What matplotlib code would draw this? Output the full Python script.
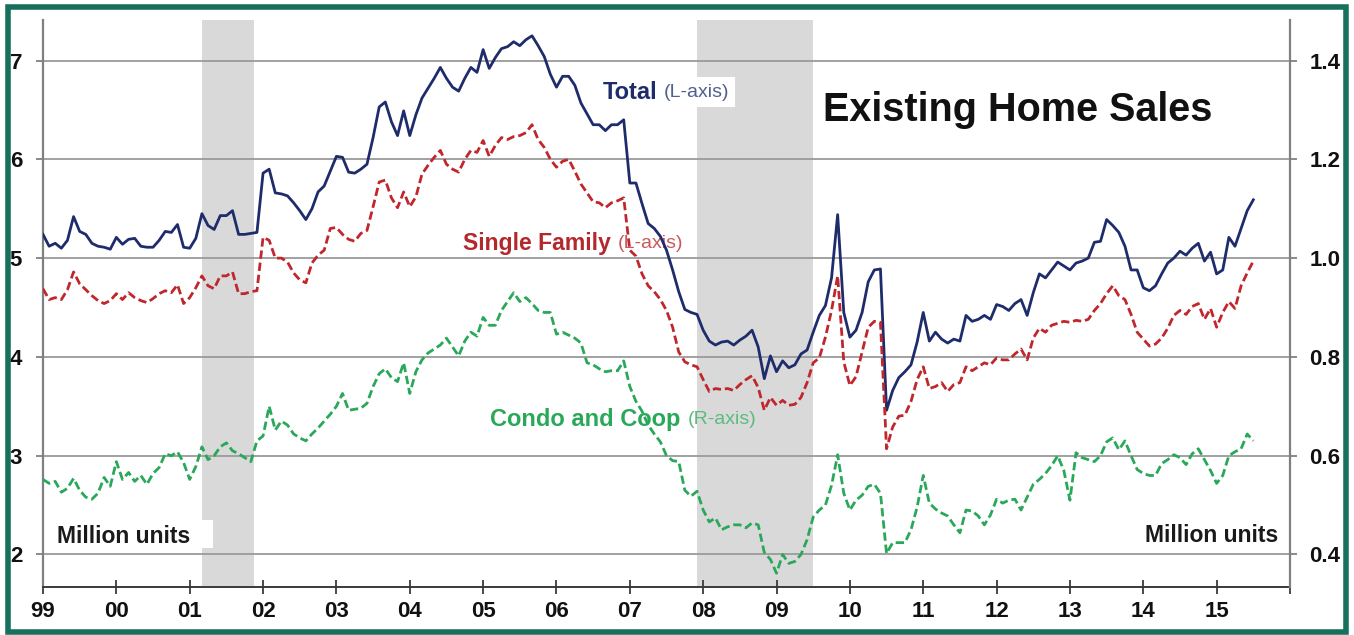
"""
Existing Home Sales: total and single family (left axis), condo and coop
(right axis), monthly SAAR, million units, 1999 - mid 2015.
"""

import matplotlib
matplotlib.use('Agg')

import numpy as np
import matplotlib.pyplot as plt
from matplotlib.patches import Rectangle

plt.rcParams['font.family'] = ['Liberation Sans', 'DejaVu Sans']

# Monthly values, Jan 1999 .. Jul 2015 (million units)
total_sales = [
    5.24, 5.12, 5.15, 5.10, 5.18, 5.42, 5.27, 5.24, 5.15, 5.12, 5.11, 5.09,
    5.21, 5.14, 5.19, 5.20, 5.12, 5.11, 5.11, 5.18, 5.27, 5.26, 5.34, 5.11,
    5.10, 5.20, 5.45, 5.33, 5.29, 5.43, 5.43, 5.48, 5.24, 5.24, 5.25, 5.26,
    5.86, 5.90, 5.66, 5.65, 5.63, 5.56, 5.48, 5.39, 5.50, 5.67, 5.73, 5.88,
    6.03, 6.02, 5.87, 5.86, 5.90, 5.95, 6.22, 6.53, 6.58, 6.38, 6.24, 6.49,
    6.24, 6.45, 6.62, 6.72, 6.82, 6.93, 6.82, 6.73, 6.69, 6.82, 6.93, 6.88,
    7.11, 6.92, 7.03, 7.12, 7.14, 7.19, 7.15, 7.21, 7.25, 7.15, 7.04, 6.86,
    6.73, 6.84, 6.84, 6.75, 6.57, 6.46, 6.35, 6.35, 6.29, 6.35, 6.35, 6.40,
    5.76, 5.76, 5.55, 5.35, 5.30, 5.22, 5.08, 4.88, 4.66, 4.48, 4.45, 4.43,
    4.27, 4.16, 4.12, 4.15, 4.16, 4.12, 4.17, 4.21, 4.27, 4.10, 3.78, 4.01,
    3.85, 3.96, 3.89, 3.92, 4.03, 4.07, 4.25, 4.42, 4.52, 4.80, 5.44, 4.45,
    4.20, 4.27, 4.45, 4.76, 4.88, 4.89, 3.46, 3.66, 3.79, 3.85, 3.92, 4.15,
    4.45, 4.16, 4.25, 4.18, 4.14, 4.18, 4.16, 4.42, 4.36, 4.38, 4.42, 4.38,
    4.53, 4.51, 4.47, 4.54, 4.58, 4.42, 4.65, 4.84, 4.80, 4.88, 4.96, 4.92,
    4.88, 4.95, 4.97, 5.00, 5.16, 5.17, 5.39, 5.33, 5.26, 5.12, 4.88, 4.88,
    4.70, 4.67, 4.72, 4.84, 4.95, 5.00, 5.07, 5.03, 5.10, 5.15, 4.97, 5.06,
    4.84, 4.88, 5.21, 5.12, 5.30, 5.48, 5.59,
]

single_family = [
    4.69, 4.58, 4.60, 4.58, 4.68, 4.86, 4.74, 4.68, 4.62, 4.57, 4.54, 4.57,
    4.64, 4.58, 4.65, 4.60, 4.57, 4.55, 4.59, 4.64, 4.67, 4.65, 4.73, 4.54,
    4.60, 4.70, 4.82, 4.72, 4.69, 4.82, 4.82, 4.86, 4.64, 4.64, 4.66, 4.67,
    5.21, 5.18, 5.00, 5.00, 4.96, 4.85, 4.78, 4.75, 4.95, 5.03, 5.08, 5.30,
    5.31, 5.24, 5.19, 5.17, 5.25, 5.28, 5.52, 5.77, 5.79, 5.61, 5.51, 5.67,
    5.52, 5.62, 5.85, 5.94, 6.02, 6.09, 5.95, 5.90, 5.87, 6.00, 6.09, 6.07,
    6.19, 6.03, 6.14, 6.22, 6.20, 6.23, 6.24, 6.27, 6.35, 6.20, 6.12, 6.00,
    5.92, 5.98, 6.00, 5.88, 5.75, 5.66, 5.57, 5.56, 5.51, 5.56, 5.58, 5.61,
    5.08, 5.02, 4.84, 4.72, 4.66, 4.58, 4.47, 4.30, 4.05, 3.95, 3.92, 3.90,
    3.77, 3.65, 3.68, 3.67, 3.68, 3.66, 3.72, 3.77, 3.81, 3.69, 3.46, 3.59,
    3.51, 3.56, 3.51, 3.52, 3.59, 3.74, 3.94, 3.99, 4.20, 4.47, 4.82, 3.95,
    3.71, 3.80, 4.05, 4.30, 4.36, 4.35, 3.07, 3.29, 3.40, 3.41, 3.55, 3.77,
    3.90, 3.68, 3.70, 3.74, 3.65, 3.72, 3.74, 3.90, 3.86, 3.90, 3.94, 3.92,
    3.99, 3.97, 3.97, 4.03, 4.08, 3.97, 4.19, 4.29, 4.25, 4.32, 4.34, 4.36,
    4.35, 4.37, 4.36, 4.38, 4.47, 4.54, 4.64, 4.72, 4.62, 4.58, 4.43, 4.25,
    4.18, 4.11, 4.13, 4.19, 4.29, 4.42, 4.47, 4.43, 4.51, 4.54, 4.38, 4.49,
    4.30, 4.45, 4.56, 4.49, 4.72, 4.85, 4.97,
]

condo_coop = [
    0.552, 0.544, 0.548, 0.526, 0.534, 0.554, 0.530, 0.516, 0.512, 0.524, 0.556, 0.538,
    0.588, 0.552, 0.566, 0.548, 0.560, 0.542, 0.564, 0.576, 0.604, 0.600, 0.608, 0.586,
    0.552, 0.578, 0.618, 0.592, 0.600, 0.618, 0.626, 0.610, 0.604, 0.596, 0.588, 0.630,
    0.640, 0.700, 0.652, 0.670, 0.662, 0.644, 0.636, 0.630, 0.644, 0.656, 0.670, 0.684,
    0.700, 0.726, 0.692, 0.694, 0.696, 0.706, 0.740, 0.766, 0.776, 0.758, 0.750, 0.788,
    0.726, 0.770, 0.794, 0.808, 0.816, 0.824, 0.838, 0.820, 0.802, 0.832, 0.850, 0.842,
    0.880, 0.864, 0.864, 0.894, 0.912, 0.930, 0.912, 0.920, 0.908, 0.894, 0.890, 0.890,
    0.846, 0.850, 0.844, 0.838, 0.828, 0.788, 0.784, 0.776, 0.770, 0.772, 0.772, 0.792,
    0.740, 0.710, 0.690, 0.662, 0.644, 0.628, 0.600, 0.590, 0.588, 0.530, 0.518, 0.528,
    0.490, 0.466, 0.474, 0.450, 0.456, 0.460, 0.460, 0.454, 0.464, 0.460, 0.404, 0.390,
    0.362, 0.400, 0.382, 0.386, 0.400, 0.430, 0.476, 0.490, 0.500, 0.540, 0.602, 0.524,
    0.490, 0.510, 0.520, 0.538, 0.542, 0.524, 0.402, 0.424, 0.424, 0.424, 0.450, 0.496,
    0.560, 0.504, 0.492, 0.484, 0.478, 0.460, 0.444, 0.490, 0.488, 0.478, 0.460, 0.480,
    0.512, 0.504, 0.510, 0.512, 0.490, 0.516, 0.542, 0.552, 0.564, 0.580, 0.600, 0.570,
    0.510, 0.606, 0.596, 0.592, 0.588, 0.600, 0.628, 0.636, 0.612, 0.630, 0.600, 0.572,
    0.564, 0.560, 0.560, 0.584, 0.592, 0.602, 0.596, 0.582, 0.604, 0.614, 0.592, 0.570,
    0.544, 0.560, 0.600, 0.608, 0.614, 0.644, 0.630,
]

years = list(range(1999, 2017))
year_labels = ['99', '00', '01', '02', '03', '04', '05', '06', '07', '08',
               '09', '10', '11', '12', '13', '14', '15', '']
left_ticks = [2, 3, 4, 5, 6, 7]
right_ticks = [0.4, 0.6, 0.8, 1.0, 1.2, 1.4]
recessions = [(2001.17, 2001.88), (2007.92, 2009.50)]

# Colors
navy = '#1f2c6b'
red = '#c0272d'
green = '#2aa85a'

dates = 1999 + np.arange(len(total_sales)) / 12.0

fig = plt.figure(figsize=(13.54, 6.35), dpi=100)
ax = fig.add_axes([43 / 1354, 48 / 635, 1247 / 1354, 567 / 635])
ax2 = ax.twinx()

ax.set_xlim(1999, 2016)
ax.set_ylim(1.671, 7.41)
ax2.set_ylim(1.671 / 5, 7.41 / 5)

# Recession shading
for start, end in recessions:
    ax.axvspan(start, end, color='#d9d9d9', lw=0, zorder=0)

ax.set_yticks(left_ticks)
ax.set_yticklabels([str(t) for t in left_ticks])
ax2.set_yticks(right_ticks)
ax2.set_yticklabels(['%.1f' % t for t in right_ticks])
ax.set_xticks(years)
ax.set_xticklabels(year_labels)

ax.yaxis.grid(True, color='#9a9a9a', lw=1.3)
ax.xaxis.grid(False)

# Series
ax.plot(dates, total_sales, color=navy, lw=2.0, zorder=4)
ax.plot(dates, single_family, color=red, lw=2.0, dashes=(3.0, 1.4), zorder=4)
ax2.plot(dates, condo_coop, color=green, lw=2.0, dashes=(3.0, 1.4), zorder=4)

# Spines and ticks
for a in (ax, ax2):
    a.spines['top'].set_visible(False)
ax.spines['right'].set_visible(False)
ax2.spines['left'].set_visible(False)
ax2.spines['bottom'].set_visible(False)
ax.spines['left'].set_color('#808080')
ax.spines['left'].set_linewidth(1.6)
ax2.spines['right'].set_color('#808080')
ax2.spines['right'].set_linewidth(1.6)
ax.spines['bottom'].set_color('#3a3a3a')
ax.spines['bottom'].set_linewidth(1.4)

ax.tick_params(axis='y', direction='out', length=5, width=1.3, color='#808080',
               pad=10, labelsize=16, labelcolor='#111111')
ax2.tick_params(axis='y', direction='out', length=5, width=1.3, color='#808080',
                pad=9, labelsize=16, labelcolor='#111111')
ax.tick_params(axis='x', direction='inout', length=10, width=1.3, color='#3a3a3a',
               pad=5, labelsize=16, labelcolor='#111111')
for lab in ax.get_xticklabels() + ax.get_yticklabels() + ax2.get_yticklabels():
    lab.set_fontweight('bold')

# White boxes behind labels
ax.add_patch(Rectangle((1999.12, 2.066), 2.20, 0.283, facecolor='white',
                       edgecolor='none', zorder=2))
ax.add_patch(Rectangle((2006.55, 6.53), 1.88, 0.30, facecolor='white',
                       edgecolor='none', zorder=2))

# Series labels
ax.text(2006.63, 6.68, 'Total', color=navy, fontsize=17, fontweight='bold',
        ha='left', va='center', zorder=3)
ax.text(2007.46, 6.675, '(L-axis)', color='#50608f', fontsize=14,
        ha='left', va='center', zorder=3)
ax.text(2004.73, 5.15, 'Single Family', color='#b3282d', fontsize=16.6,
        fontweight='bold', ha='left', va='center', zorder=3)
ax.text(2006.83, 5.145, '(L-axis)', color='#c8585c', fontsize=14,
        ha='left', va='center', zorder=3)
ax.text(2005.09, 3.37, 'Condo and Coop', color=green, fontsize=17,
        fontweight='bold', ha='left', va='center', zorder=3)
ax.text(2007.79, 3.365, '(R-axis)', color='#5dbb7f', fontsize=14,
        ha='left', va='center', zorder=3)

ax.text(2009.63, 6.50, 'Existing Home Sales', color='#111111', fontsize=28.5,
        fontweight='bold', ha='left', va='center', zorder=3)
ax.text(1999.19, 2.18, 'Million units', color='#1a1a1a', fontsize=16.5,
        fontweight='bold', ha='left', va='center', zorder=3)
ax.text(2015.84, 2.19, 'Million units', color='#1a1a1a', fontsize=16.5,
        fontweight='bold', ha='right', va='center', zorder=3)

# Green frame round the whole picture
fig.patches.append(Rectangle((7.5 / 1354, 3 / 635), 1338 / 1354, 625.5 / 635,
                             transform=fig.transFigure, fill=False,
                             edgecolor='#17705b', lw=4))

fig.savefig('out.png', dpi=100)
